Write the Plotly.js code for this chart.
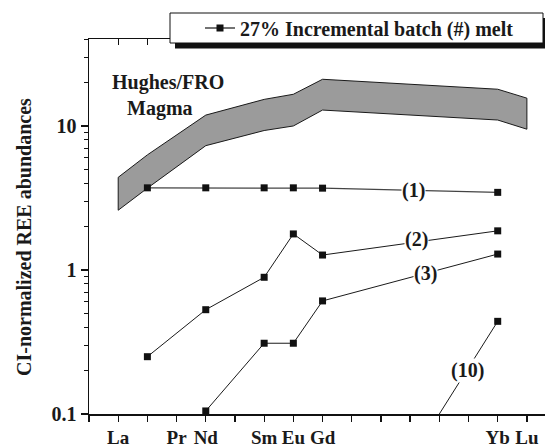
<!DOCTYPE html>
<html>
<head>
<meta charset="utf-8">
<script src="https://cdn.plot.ly/plotly-3.0.1.min.js"></script>
<style>html,body{margin:0;padding:0;background:#fff;}#chart{width:545px;height:448px;}</style>
</head>
<body>
<div id="chart"></div>
<script>
// REE order on the x axis (position = index + 1)
const elements = ['La','Ce','Pr','Nd','Pm','Sm','Eu','Gd','Tb','Dy','Ho','Er','Tm','Yb','Lu'];
const labeledTicks = ['La','Pr','Nd','Sm','Eu','Gd','Yb','Lu'];

// Hughes/FRO magma field (upper and lower bounds)
const bandX = ['La','Ce','Nd','Sm','Eu','Gd','Yb','Lu'];
const bandUpper = [4.4, 6.3, 11.9, 15.3, 16.6, 21.1, 18.0, 15.6];
const bandLower = [2.6, 3.7, 7.3, 9.3, 10.0, 12.9, 11.0, 9.5];

// 27% incremental batch melts (1), (2), (3), (10)
const melt1X = ['Ce','Nd','Sm','Eu','Gd','Yb'];
const melt1Y = [3.72, 3.72, 3.72, 3.72, 3.70, 3.46];
const melt2X = ['Ce','Nd','Sm','Eu','Gd','Yb'];
const melt2Y = [0.25, 0.53, 0.89, 1.78, 1.27, 1.87];
const melt3X = ['Nd','Sm','Eu','Gd','Yb'];
const melt3Y = [0.105, 0.31, 0.31, 0.61, 1.29];
const melt10X = ['Er','Yb'];
const melt10Y = [0.1, 0.44];

const legendName = '27% Incremental batch (#) melt';
const serif = '"Liberation Serif", "Times New Roman", Times, serif';

const pos = e => elements.indexOf(e) + 1;
const bold = (size) => ({family: serif, size: size, color: '#1a1a1a', weight: 'bold'});

const bandPolyX = bandX.map(pos).concat(bandX.slice().reverse().map(pos));
const bandPolyY = bandUpper.concat(bandLower.slice().reverse());
bandPolyX.push(bandPolyX[0]); bandPolyY.push(bandPolyY[0]);

const lineStyle = {color: '#1a1a1a', width: 1};
const mk = {symbol: 'square', size: 7, color: '#111'};

const traces = [
  {x: bandPolyX, y: bandPolyY, mode: 'lines', fill: 'toself', fillcolor: '#9b9b9b',
   line: {color: '#1a1a1a', width: 1}, showlegend: false, hoverinfo: 'skip'},
  {x: melt1X.map(pos), y: melt1Y, mode: 'lines+markers', name: legendName,
   line: {color: '#444', width: 1.3}, marker: mk, showlegend: true},
  {x: melt2X.map(pos), y: melt2Y, mode: 'lines+markers', line: lineStyle, marker: mk, showlegend: false},
  {x: melt3X.map(pos), y: melt3Y, mode: 'lines+markers', line: lineStyle, marker: mk, showlegend: false, cliponaxis: false},
  {x: melt10X.map(pos), y: melt10Y, mode: 'lines', line: lineStyle, showlegend: false},
  {x: melt10X.slice(1).map(pos), y: melt10Y.slice(1), mode: 'markers', marker: mk, showlegend: false},
  {x: [0], y: [0.1], xaxis: 'x2', mode: 'markers', marker: {size: 0, opacity: 0}, showlegend: false, hoverinfo: 'skip'}
];

const tickPositions = [0].concat(elements.map(pos));
const tickTexts = [''].concat(elements.map(e => labeledTicks.includes(e) ? e : ''));
const xr = [0, 15.62];

// paper-coordinate helpers (plot area: x 89..545 px, y 39..414 px)
const px = v => (v - 89) / 456;
const py = v => (414 - v) / 375;

const layout = {
  width: 545, height: 448,
  margin: {l: 89, r: 0, t: 39, b: 34, pad: 0},
  paper_bgcolor: '#fff', plot_bgcolor: '#fff',
  font: bold(20),
  xaxis: {
    range: xr, showgrid: false, zeroline: false,
    showline: true, linecolor: '#111', linewidth: 1.5,
    ticks: 'outside', ticklen: 6, tickwidth: 1.3, tickcolor: '#111',
    tickmode: 'array', tickvals: tickPositions, ticktext: tickTexts,
    tickfont: bold(19), ticklabelstandoff: 0
  },
  xaxis2: {
    range: xr, overlaying: 'x', side: 'top', anchor: 'y', showgrid: false, zeroline: false,
    showline: true, linecolor: '#111', linewidth: 1.5,
    ticks: 'inside', ticklen: 6, tickwidth: 1.3, tickcolor: '#111',
    tickmode: 'array', tickvals: tickPositions, showticklabels: false
  },
  yaxis: {
    type: 'log', range: [-1, 1.604], showgrid: false, zeroline: false,
    showline: true, linecolor: '#111', linewidth: 1.5,
    ticks: 'outside', ticklen: 7, tickwidth: 1.3, tickcolor: '#111',
    tickmode: 'array', tickvals: [0.1, 1, 10], ticktext: ['0.1', '1', '10'],
    tickfont: bold(20),
    minor: {ticks: 'outside', ticklen: 4, tickwidth: 1, tickcolor: '#111', dtick: 'D1', showgrid: false}
  },
  showlegend: true,
  legend: {
    x: px(200), xanchor: 'left', y: py(28), yanchor: 'middle',
    bgcolor: 'rgba(0,0,0,0)', borderwidth: 0, font: bold(20)
  },
  shapes: [
    {type: 'rect', xref: 'paper', yref: 'paper', x0: px(175), x1: px(549), y0: py(48.5), y1: py(18),
     fillcolor: '#111', line: {width: 0}, layer: 'above'},
    {type: 'rect', xref: 'paper', yref: 'paper', x0: px(170), x1: px(543), y0: py(43), y1: py(13),
     fillcolor: '#fff', line: {color: '#111', width: 1}, layer: 'above'}
  ],
  annotations: [
    {text: 'Hughes/FRO', xref: 'paper', yref: 'paper', x: px(168), y: py(83), xanchor: 'center', yanchor: 'middle', showarrow: false, font: bold(20)},
    {text: 'Magma', xref: 'paper', yref: 'paper', x: px(160), y: py(108), xanchor: 'center', yanchor: 'middle', showarrow: false, font: bold(20)},
    {text: 'CI-normalized REE abundances', xref: 'paper', yref: 'paper', x: px(24), y: py(237),
     xanchor: 'center', yanchor: 'middle', textangle: -90, showarrow: false, font: bold(20)},
    {text: '(1)', x: 11.13, y: Math.log10(3.54), showarrow: false, bgcolor: '#fff', borderpad: 0, font: bold(20)},
    {text: '(2)', x: 11.23, y: Math.log10(1.616), showarrow: false, bgcolor: '#fff', borderpad: 0, font: bold(20)},
    {text: '(3)', x: 11.54, y: Math.log10(0.938), showarrow: false, bgcolor: '#fff', borderpad: 0, font: bold(20)},
    {text: '(10)', x: 12.95, y: Math.log10(0.202), showarrow: false, bgcolor: '#fff', borderpad: 0, font: bold(20)}
  ]
};

Plotly.newPlot('chart', traces, layout, {staticPlot: true, displayModeBar: false});
</script>
</body>
</html>
